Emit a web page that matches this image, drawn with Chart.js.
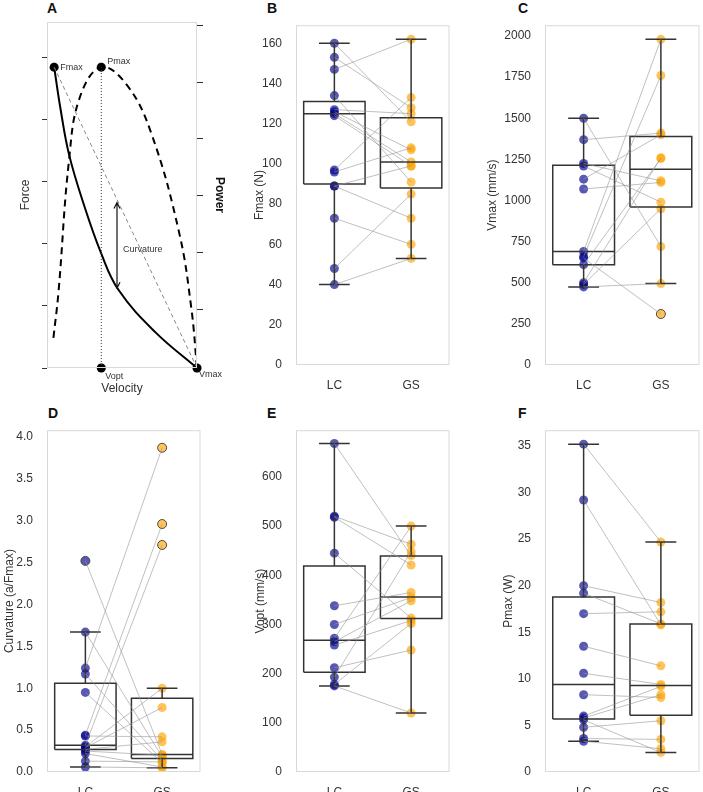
<!DOCTYPE html>
<html><head><meta charset="utf-8">
<script src="https://cdn.jsdelivr.net/npm/chart.js@4.4.1/dist/chart.umd.min.js"></script>
<style>
body{margin:0;background:#fff;width:703px;height:792px;position:relative;overflow:hidden;font-family:'Liberation Sans',Arial,sans-serif}
canvas{position:absolute}
.lt{position:absolute;font-weight:bold;font-size:14px;color:#111}
</style></head><body>
<div class="lt" style="left:47px;top:0px">A</div>
<div class="lt" style="left:267px;top:0px">B</div>
<div class="lt" style="left:518px;top:0px">C</div>
<div class="lt" style="left:48px;top:405px">D</div>
<div class="lt" style="left:267px;top:405px">E</div>
<div class="lt" style="left:518px;top:405px">F</div>
<canvas id="cA"></canvas><canvas id="cB"></canvas><canvas id="cC"></canvas>
<canvas id="cD"></canvas><canvas id="cE"></canvas><canvas id="cF"></canvas>
<script>
const FONT="'Liberation Sans', Arial, sans-serif";
const groups=['LC','GS'];
// Panel A schematic
const forceV=[0,0.045,0.104,0.21,0.33,0.45,0.706,1];
const forceF=[1,0.86,0.71,0.54,0.38,0.26,0.12,0];
const powerV=[-0.005,0.03,0.104,0.18,0.33,0.51,0.68,0.875,0.96,1];
const powerP=[0.10,0.25,0.69,0.90,1.0,0.94,0.78,0.45,0.20,0];
const forceTicks=[0,0.207,0.413,0.62,0.826,1.033];
const powerTicks=[0.195,0.384,0.573,0.762,0.950,1.139];
const keyLabels=['Fmax','Pmax','Vopt','Vmax'];
const keyV=[0,0.33,0.33,1];
const keyY=[1,1,0,0];
const arrowV=0.44, arrowLow=0.265, arrowHigh=0.55;
// Panel B Fmax
const fmaxTicks=[0,20,40,60,80,100,120,140,160];
const fmaxLC=[160,153,147,134,127,126,125,124,97,96,89,89,73,48,40];
const fmaxGS=[121,128,162,91,125,107,101,99,133,108,99,73,60,85,53];
const fmaxBoxLC=[40,90,125,131,160], fmaxBoxGS=[53,88,101,123,162];
// Panel C Vmax
const vmaxTicks=[0,250,500,750,1000,1250,1500,1750,2000];
const vmaxLC=[1500,1370,1225,1210,1130,1070,690,660,650,610,500,490,475];
const vmaxGS=[720,1410,1120,990,1400,1110,1980,1760,310,1255,1260,950,495];
const vmaxBoxLC=[475,610,690,1215,1500], vmaxBoxGS=[495,960,1190,1390,1980];
// Panel D Curvature
const curvTicks=[0,0.5,1.0,1.5,2.0,2.5,3.0,3.5,4.0];
const curvLC=[2.52,1.67,1.24,1.17,0.95,0.44,0.43,0.32,0.30,0.29,0.27,0.25,0.22,0.13,0.06];
const curvGS=[0.21,0.18,3.87,0.14,0.11,2.96,0.42,2.71,1.00,0.77,0.36,0.20,0.06,0.12,0.05];
const curvBoxLC=[0.06,0.27,0.32,1.06,1.67], curvBoxGS=[0.05,0.16,0.21,0.88,1.00];
// Panel E Vopt
const voptTicks=[0,100,200,300,400,500,600];
const voptLC=[668,520,518,445,338,300,272,265,258,212,193,178,175];
const voptGS=[440,463,421,313,365,355,500,348,308,248,448,302,120];
const voptBoxLC=[175,203,268,419,668], voptBoxGS=[120,312,356,439,500];
// Panel F Pmax
const pmaxTicks=[0,5,10,15,20,25,30,35];
const pmaxLC=[35.2,29.2,20.0,19.2,17.0,13.5,10.6,8.3,6.0,5.8,5.6,4.8,3.6,3.3];
const pmaxGS=[24.7,15.8,18.2,15.9,17.2,11.4,9.4,8.0,9.2,8.3,2.1,5.5,3.5,2.5];
const pmaxBoxLC=[3.3,5.7,9.4,18.8,35.2], pmaxBoxGS=[2.1,6.1,9.3,15.9,24.7];

const frame={id:'frame',afterDraw(c){const a=c.chartArea,x=c.ctx;x.save();x.strokeStyle='#d9d9d9';x.lineWidth=1;x.strokeRect(a.left+0.5,a.top+0.5,a.right-a.left-1,a.bottom-a.top-1);x.restore();}};

function place(id,left,top,w,h){const c=document.getElementById(id);c.style.left=left+'px';c.style.top=top+'px';c.style.width=w+'px';c.style.height=h+'px';c.width=w;c.height=h;return c;}

function boxPanel(id,fl,ft,fr,fb,yw,ymax,tickVals,dec,title,lc,gs,bl,bg){
  const padT=10,xh=24;
  const c=place(id,fl-yw,ft-padT,yw+(fr-fl)+3,padT+(fb-ft)+xh);
  const pairs=[];lc.forEach((v,i)=>{pairs.push({x:0,y:v},{x:1,y:gs[i]},{x:0.5,y:null});});
  const boxes=[],wh=[],med=[];
  [bl,bg].forEach((s,k)=>{
    boxes.push({x:k-0.4,y:s[1]},{x:k+0.4,y:s[1]},{x:k+0.4,y:s[3]},{x:k-0.4,y:s[3]},{x:k-0.4,y:s[1]},{x:k,y:null});
    med.push({x:k-0.4,y:s[2]},{x:k+0.4,y:s[2]},{x:k,y:null});
    wh.push({x:k,y:s[0]},{x:k,y:s[1]},{x:k,y:null},{x:k,y:s[3]},{x:k,y:s[4]},{x:k,y:null},
      {x:k-0.2,y:s[0]},{x:k+0.2,y:s[0]},{x:k,y:null},{x:k-0.2,y:s[4]},{x:k+0.2,y:s[4]},{x:k,y:null});
  });
  const pts=(arr,k)=>arr.map(v=>({x:k,y:v}));
  const out=(arr,s)=>arr.map(v=>(v<s[0]-1e-9||v>s[4]+1e-9)?'rgba(60,60,60,0.9)':'rgba(0,0,0,0)');
  const ln={type:'line',pointRadius:0,spanGaps:false,fill:false};
  new Chart(c,{type:'scatter',data:{datasets:[
    {...ln,data:pairs,borderColor:'rgba(150,150,150,0.6)',borderWidth:1},
    {...ln,data:wh,borderColor:'#333',borderWidth:1.5},
    {...ln,data:boxes,borderColor:'#333',borderWidth:1.5},
    {...ln,data:med,borderColor:'#333',borderWidth:1.5},
    {data:pts(lc,0),backgroundColor:'rgba(0,0,139,0.65)',borderColor:out(lc,bl),borderWidth:1,pointRadius:4.5},
    {data:pts(gs,1),backgroundColor:'rgba(255,165,0,0.65)',borderColor:out(gs,bg),borderWidth:1,pointRadius:4.5}
  ]},options:{responsive:false,animation:false,events:[],layout:{padding:{top:padT,right:3,left:0,bottom:0}},
    plugins:{legend:{display:false},tooltip:{enabled:false}},
    scales:{
      x:{type:'linear',min:-0.5,max:1.5,grid:{display:false},border:{display:false},
        afterBuildTicks:s=>{s.ticks=[{value:0},{value:1}]},
        afterFit:s=>{s.height=xh},
        ticks:{callback:v=>groups[v],color:'#333',font:{family:FONT,size:12},padding:5,autoSkip:false,maxRotation:0}},
      y:{min:0,max:ymax,grid:{display:false},border:{display:false},
        afterBuildTicks:s=>{s.ticks=tickVals.map(v=>({value:v}))},
        afterFit:s=>{s.width=yw},
        ticks:{callback:v=>v.toFixed(dec),color:'#333',font:{family:FONT,size:12},padding:6,autoSkip:false},
        title:{display:true,text:title,color:'#333',font:{family:FONT,size:12},padding:2}}
    }},plugins:[frame]});
}
boxPanel('cB',296,22,452,365,46,169,fmaxTicks,0,'Fmax (N)',fmaxLC,fmaxGS,fmaxBoxLC,fmaxBoxGS);
boxPanel('cC',545,22,702,365,62,2066,vmaxTicks,0,'Vmax (mm/s)',vmaxLC,vmaxGS,vmaxBoxLC,vmaxBoxGS);
boxPanel('cD',47,427,203,772,47,4.08,curvTicks,1,'Curvature (a/Fmax)',curvLC,curvGS,curvBoxLC,curvBoxGS);
boxPanel('cE',296,427,452,772,45,695,voptTicks,0,'Vopt (mm/s)',voptLC,voptGS,voptBoxLC,voptBoxGS);
boxPanel('cF',545,427,702,772,46,36.7,pmaxTicks,0,'Pmax (W)',pmaxLC,pmaxGS,pmaxBoxLC,pmaxBoxGS);

// Panel A
(function(){
  const fl=47,ft=22,fr=197,fb=368,padT=10,yw=47,xh=28,y2w=30;
  const c=place('cA',fl-yw,ft-padT,yw+(fr-fl)+y2w,padT+(fb-ft)+xh);
  const ln={type:'line',pointRadius:0,fill:false,yAxisID:'y'};
  const labels={id:'alabels',afterDatasetsDraw(ch){
    const x=ch.ctx,sx=ch.scales.x,sy=ch.scales.y;x.save();
    x.fillStyle='#333';x.font='9px '+FONT;x.textBaseline='middle';
    const offs=[[6,0],[6,-6],[4,9],[2,7]];
    keyLabels.forEach((t,i)=>{x.fillText(t,sx.getPixelForValue(keyV[i])+offs[i][0],sy.getPixelForValue(keyY[i])+offs[i][1]);});
    x.fillText('Curvature',sx.getPixelForValue(arrowV)+6,sy.getPixelForValue((arrowLow+arrowHigh)/2)+4);
    const ax=sx.getPixelForValue(arrowV),a1=sy.getPixelForValue(arrowHigh),a2=sy.getPixelForValue(arrowLow);
    x.strokeStyle='#111';x.lineWidth=1.2;x.beginPath();x.moveTo(ax,a1);x.lineTo(ax,a2);
    x.moveTo(ax-3,a1+6);x.lineTo(ax,a1);x.lineTo(ax+3,a1+6);
    x.moveTo(ax-3,a2-6);x.lineTo(ax,a2);x.lineTo(ax+3,a2-6);x.stroke();x.restore();}};
  new Chart(c,{type:'scatter',data:{datasets:[
    {...ln,data:[{x:0,y:1},{x:1,y:0}],borderColor:'#888',borderWidth:1,borderDash:[4,3]},
    {...ln,data:[{x:keyV[1],y:0},{x:keyV[1],y:1}],borderColor:'#333',borderWidth:1,borderDash:[1,2]},
    {...ln,data:forceV.map((v,i)=>({x:v,y:forceF[i]})),borderColor:'#000',borderWidth:2,tension:0.4},
    {...ln,data:powerV.map((v,i)=>({x:v,y:powerP[i]})),borderColor:'#000',borderWidth:2,borderDash:[7,5],tension:0.4},
    {data:keyV.map((v,i)=>({x:v,y:keyY[i]})),backgroundColor:'#000',pointRadius:4.5,clip:false}
  ]},options:{responsive:false,animation:false,events:[],layout:{padding:{top:padT,right:0,left:0,bottom:0}},
    plugins:{legend:{display:false},tooltip:{enabled:false}},
    scales:{
      x:{type:'linear',min:-0.05,max:1.0,grid:{display:false},border:{display:false},
        ticks:{display:false},afterFit:s=>{s.height=xh},
        title:{display:true,text:'Velocity',color:'#333',font:{family:FONT,size:12},padding:{top:12,bottom:0}}},
      y:{min:0,max:1.15,border:{display:false},
        afterBuildTicks:s=>{s.ticks=forceTicks.map(v=>({value:v}))},
        grid:{drawOnChartArea:false,drawTicks:true,tickLength:5,color:'#333'},
        ticks:{display:false},afterFit:s=>{s.width=yw},
        title:{display:true,text:'Force',color:'#333',font:{family:FONT,size:12},padding:{top:18,bottom:0}}},
      y2:{position:'right',min:0,max:1.15,border:{display:false},
        afterBuildTicks:s=>{s.ticks=powerTicks.map(v=>({value:v}))},
        grid:{drawOnChartArea:false,drawTicks:true,tickLength:6,color:'#333',offset:false},
        ticks:{display:false},afterFit:s=>{s.width=y2w},
        title:{display:true,text:'Power',color:'#111',font:{family:FONT,size:12,weight:'bold'},padding:0}}
    }},plugins:[frame,labels]});
})();
</script></body></html>
